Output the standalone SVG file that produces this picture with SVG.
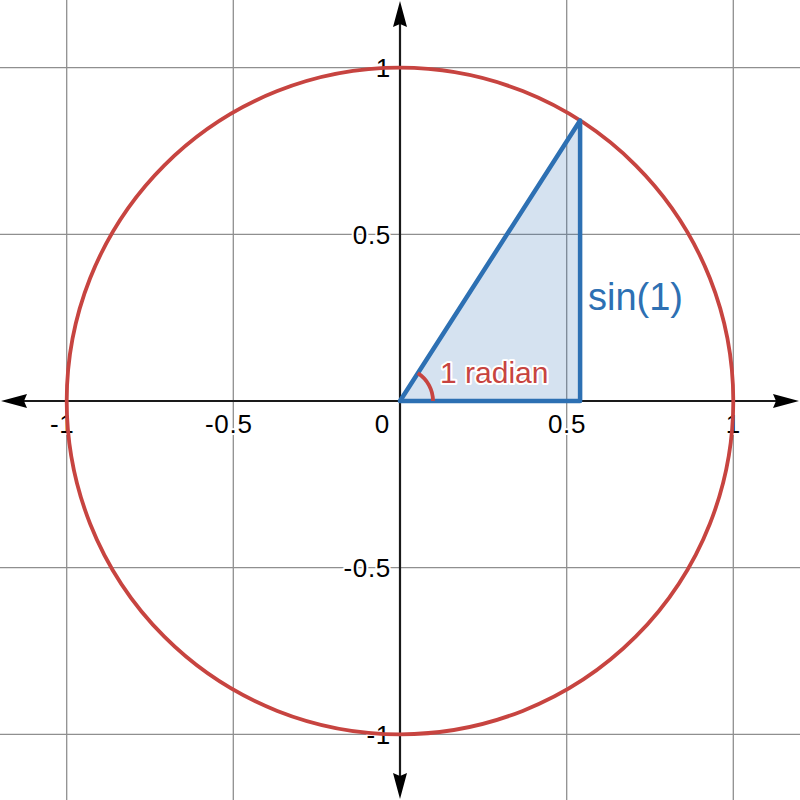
<svg xmlns="http://www.w3.org/2000/svg" width="800" height="800" viewBox="0 0 800 800">
<style>
.grid{stroke:#8f8f8f;stroke-width:1.3;fill:none}
.axis{stroke:#1a1a1a;stroke-width:2.2;fill:none}
.ah{fill:#000}
.lbl{font-family:"Liberation Sans",Arial,sans-serif;font-size:26px;letter-spacing:0.7px;fill:#000;stroke:#fff;stroke-width:4;paint-order:stroke;stroke-linejoin:round}
.red{stroke:#c74440;fill:none;stroke-width:3.8}
.blue{stroke:#2d70b3;stroke-width:4.5;stroke-linejoin:round}
</style>
<rect width="800" height="800" fill="#fff"/>
<g id="grid">
<line class="grid" x1="66.7" y1="0" x2="66.7" y2="800"/>
<line class="grid" x1="233.3" y1="0" x2="233.3" y2="800"/>
<line class="grid" x1="566.7" y1="0" x2="566.7" y2="800"/>
<line class="grid" x1="733.3" y1="0" x2="733.3" y2="800"/>
<line class="grid" x1="0" y1="67.7" x2="800" y2="67.7"/>
<line class="grid" x1="0" y1="234.3" x2="800" y2="234.3"/>
<line class="grid" x1="0" y1="567.7" x2="800" y2="567.7"/>
<line class="grid" x1="0" y1="734.3" x2="800" y2="734.3"/>
</g>
<g id="tick-labels">
<text class="lbl" x="50" y="433">-1</text>
<text class="lbl" x="205" y="433">-0.5</text>
<text class="lbl" x="390" y="433" text-anchor="end">0</text>
<text class="lbl" x="567" y="433" text-anchor="middle">0.5</text>
<text class="lbl" x="733.3" y="433" text-anchor="middle">1</text>
<text class="lbl" x="391" y="77" text-anchor="end">1</text>
<text class="lbl" x="391" y="243.5" text-anchor="end">0.5</text>
<text class="lbl" x="391" y="577" text-anchor="end">-0.5</text>
<text class="lbl" x="391" y="743.5" text-anchor="end">-1</text>
</g>
<g id="axes">
<line class="axis" x1="20" y1="401" x2="780" y2="401"/>
<line class="axis" x1="400" y1="20" x2="400" y2="780"/>
<polygon class="ah" points="1,401 27,394 24,401 27,408"/>
<polygon class="ah" points="799,401 773,394 776,401 773,408"/>
<polygon class="ah" points="400,1 393,27 400,24 407,27"/>
<polygon class="ah" points="400,799 393,773 400,776 407,773"/>
</g>
<g id="unit-circle">
<circle class="red" cx="400" cy="401" r="333.3"/>
</g>
<g id="triangle">
<polygon class="blue" points="400,401 580.1,120.5 580.1,401" fill="#2d70b3" fill-opacity="0.2"/>
</g>
<g id="angle-arc">
<path class="red" d="M433,401 A33,33 0 0 0 417.8,373.2"/>
</g>
<g id="labels">
<text x="440" y="383" font-family="Liberation Sans, Arial, sans-serif" font-size="30" fill="#c74440" stroke="#fff" stroke-width="4" paint-order="stroke" stroke-linejoin="round">1 radian</text>
<text x="588" y="310" font-family="Liberation Sans, Arial, sans-serif" font-size="38" fill="#2d70b3">sin(1)</text>
</g>
</svg>
